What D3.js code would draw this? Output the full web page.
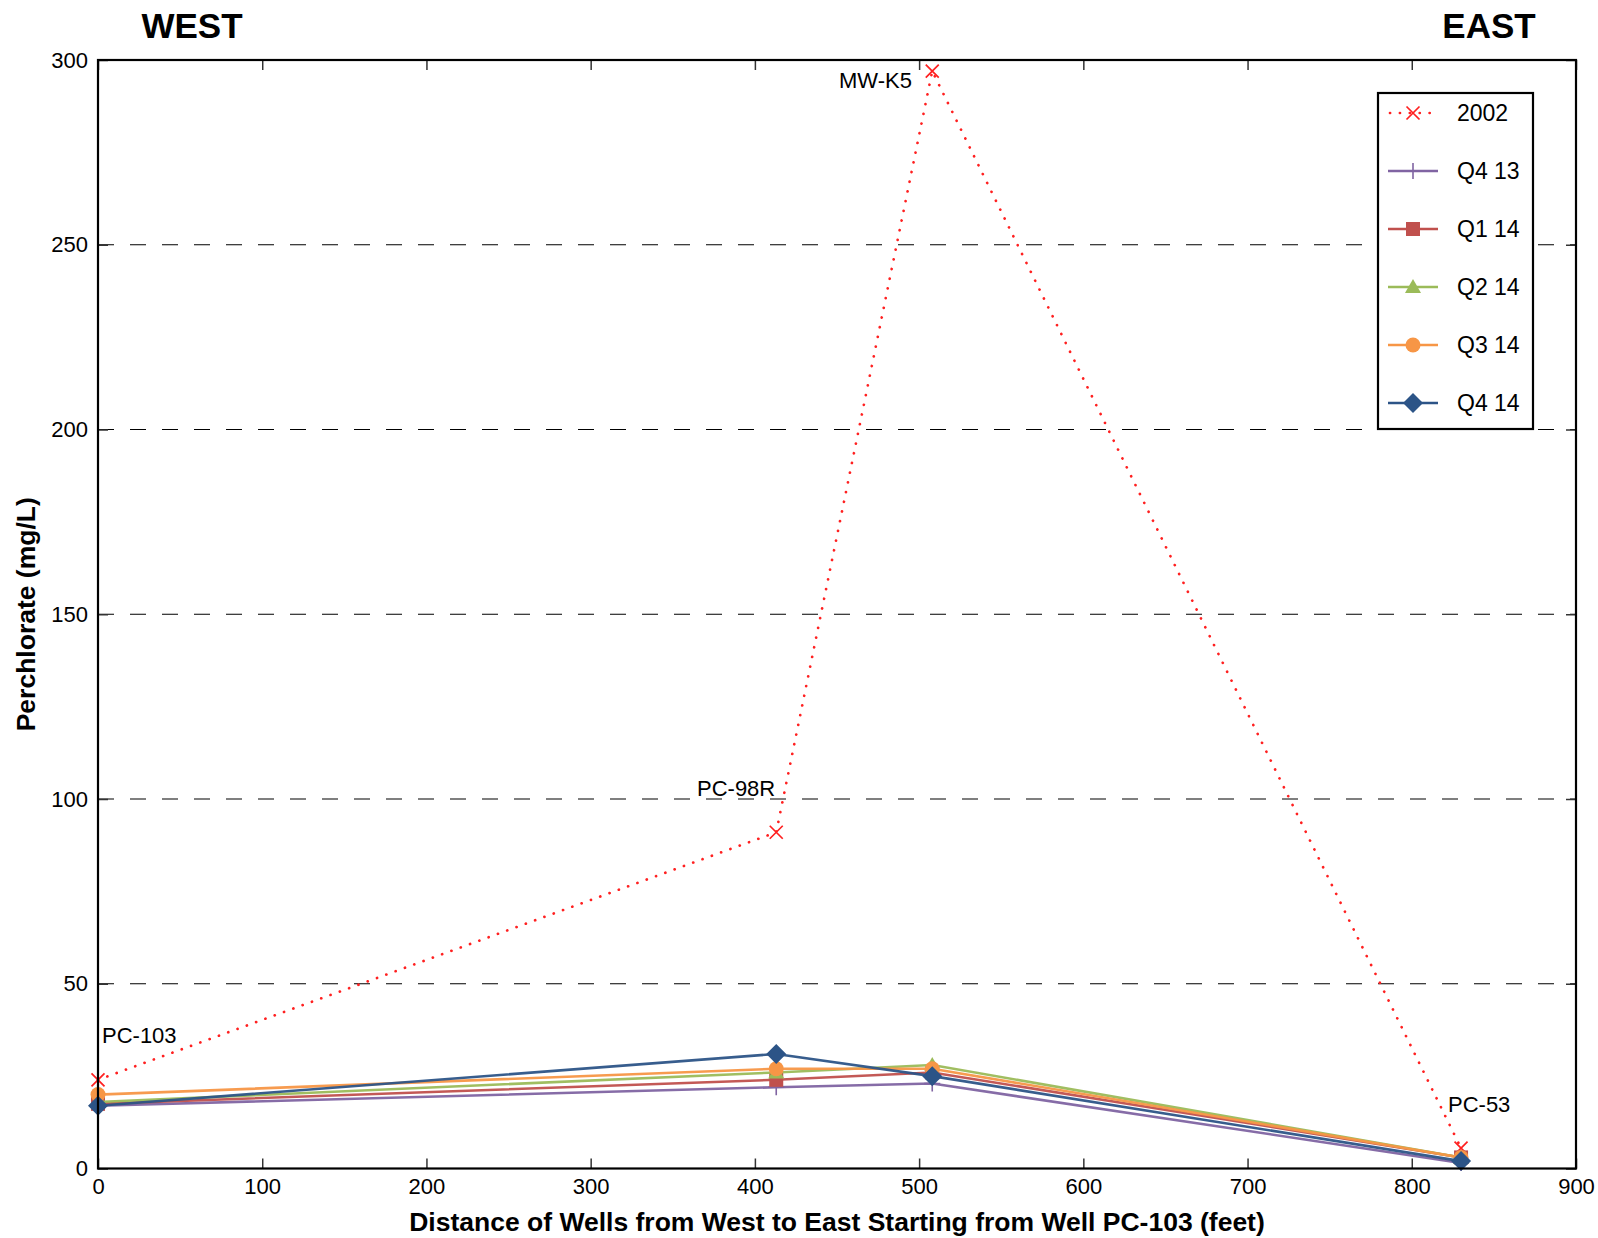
<!DOCTYPE html>
<html><head><meta charset="utf-8">
<script src="https://cdn.jsdelivr.net/npm/d3@7/dist/d3.min.js"></script>
<style>body{margin:0;background:#fff}svg{display:block;font-family:"Liberation Sans",Arial,sans-serif}</style>
</head><body>
<script>
const distances = [0, 413, 508, 830];
const wellNames = ["PC-103", "PC-98R", "MW-K5", "PC-53"];
const seriesNames = ["2002", "Q4 13", "Q1 14", "Q2 14", "Q3 14", "Q4 14"];
const v2002 = [24, 91, 297, 5.5];
const vQ413 = [17, 22, 23, 1.5];
const vQ114 = [17.5, 24, 26, 3];
const vQ214 = [18, 26, 28, 3];
const vQ314 = [20, 27, 27, 3];
const vQ414 = [17, 31, 25, 2];
const xTicks = [0,100,200,300,400,500,600,700,800,900];
const yTicks = [0,50,100,150,200,250,300];
const gridTicks = [50,100,150,200,250];

const colors = ["#ff2020","#8064a2","#c0504d","#9bbb59","#f79646","#2c5487"];
const markers = ["x","plus","square","triangle","circle","diamond"];
const allValues = [v2002,vQ413,vQ114,vQ214,vQ314,vQ414];

const W=1598,H=1238;
const L=98,R=1576,T=60,B=1168.5;
const svg=d3.select("body").append("svg").attr("width",W).attr("height",H);
const x=d3.scaleLinear().domain([0,900]).range([L,R]);
const y=d3.scaleLinear().domain([0,300]).range([B,T]);

// grid
svg.append("g").selectAll("line").data(gridTicks).join("line")
 .attr("x1",L).attr("x2",R).attr("y1",d=>y(d)).attr("y2",d=>y(d))
 .attr("stroke","#000").attr("stroke-width",1.2).attr("stroke-dasharray","16,16");

// axes with inward ticks
const axB=svg.append("g").attr("transform",`translate(0,${B})`)
 .call(d3.axisBottom(x).tickValues(xTicks).tickSize(-10).tickPadding(10).tickFormat(d3.format("d")));
const axT=svg.append("g").attr("transform",`translate(0,${T})`)
 .call(d3.axisTop(x).tickValues(xTicks).tickSize(-10).tickFormat(""));
const axL=svg.append("g").attr("transform",`translate(${L},0)`)
 .call(d3.axisLeft(y).tickValues(yTicks).tickSize(-10).tickPadding(10).tickFormat(d3.format("d")));
const axR=svg.append("g").attr("transform",`translate(${R},0)`)
 .call(d3.axisRight(y).tickValues(yTicks).tickSize(-10).tickFormat(""));
[axB,axT,axL,axR].forEach(a=>{
  a.select(".domain").remove();
  a.selectAll(".tick line").attr("stroke","#333").attr("stroke-width",1.5);
  a.selectAll("text").attr("font-size",22).attr("fill","#000").attr("font-family","Liberation Sans, Arial, sans-serif");
});
axB.selectAll("text").attr("dy","0.71em");

// series
const line=d3.line().x((d,i)=>x(distances[i])).y(d=>y(d));
function drawMarker(g,type,cx,cy,color){
  if(type==="x"){
    const s=6.5;
    g.append("path").attr("d",`M${cx-s},${cy-s}L${cx+s},${cy+s}M${cx-s},${cy+s}L${cx+s},${cy-s}`)
     .attr("stroke",color).attr("stroke-width",1.7).attr("fill","none");
  } else if(type==="plus"){
    const s=8;
    g.append("path").attr("d",`M${cx-s},${cy}L${cx+s},${cy}M${cx},${cy-s}L${cx},${cy+s}`)
     .attr("stroke",color).attr("stroke-width",1.6).attr("fill","none");
  } else if(type==="square"){
    g.append("rect").attr("x",cx-7).attr("y",cy-7).attr("width",14).attr("height",14).attr("fill",color);
  } else if(type==="triangle"){
    g.append("path").attr("d",`M${cx},${cy-8}L${cx+8},${cy+6}L${cx-8},${cy+6}Z`).attr("fill",color);
  } else if(type==="circle"){
    g.append("circle").attr("cx",cx).attr("cy",cy).attr("r",7.5).attr("fill",color);
  } else if(type==="diamond"){
    const s=10;
    g.append("path").attr("d",`M${cx},${cy-s}L${cx+s},${cy}L${cx},${cy+s}L${cx-s},${cy}Z`).attr("fill",color);
  }
}
allValues.forEach((vals,si)=>{
  const g=svg.append("g");
  const p=g.append("path").datum(vals).attr("d",line).attr("fill","none").attr("stroke",colors[si]);
  if(si===0){p.attr("stroke-width",2.7).attr("stroke-dasharray","0.1,9.8").attr("stroke-linecap","round");}
  else{p.attr("stroke-width",2.6).attr("opacity",0.95);}
  vals.forEach((v,i)=>drawMarker(g,markers[si],x(distances[i]),y(v),colors[si]));
});

// frame
svg.append("rect").attr("x",L).attr("y",T).attr("width",R-L).attr("height",B-T)
 .attr("fill","none").attr("stroke","#000").attr("stroke-width",2.2);

// well labels
const wellLabelPos=[[102,1043],[697,796],[839,88],[1448,1112]];
svg.append("g").selectAll("text").data(wellNames).join("text")
 .attr("x",(d,i)=>wellLabelPos[i][0]).attr("y",(d,i)=>wellLabelPos[i][1])
 .attr("font-size",22).text(d=>d);

// WEST / EAST
svg.append("text").attr("x",192).attr("y",38).attr("text-anchor","middle").attr("font-size",35).attr("font-weight","bold").text("WEST");
svg.append("text").attr("x",1489).attr("y",38).attr("text-anchor","middle").attr("font-size",35).attr("font-weight","bold").text("EAST");

// axis titles
svg.append("text").attr("x",(L+R)/2).attr("y",1231).attr("text-anchor","middle").attr("font-size",26.5).attr("font-weight","bold")
 .text("Distance of Wells from West to East Starting from Well PC-103 (feet)");
svg.append("text").attr("transform",`translate(35,${(T+B)/2}) rotate(-90)`).attr("text-anchor","middle").attr("font-size",26.5).attr("font-weight","bold")
 .text("Perchlorate (mg/L)");

// legend
const lg=svg.append("g");
lg.append("rect").attr("x",1378).attr("y",93).attr("width",155).attr("height",336).attr("fill","#fff").attr("stroke","#000").attr("stroke-width",2.2);
seriesNames.forEach((n,i)=>{
  const ly=113+i*58;
  const l=lg.append("line").attr("x1",1388).attr("x2",1438).attr("y1",ly).attr("y2",ly).attr("stroke",colors[i]);
  if(i===0){l.attr("stroke-width",2.7).attr("stroke-dasharray","0.1,9.8").attr("stroke-linecap","round").attr("x1",1390);}
  else l.attr("stroke-width",2.6);
  drawMarker(lg,markers[i],1413,ly,colors[i]);
  lg.append("text").attr("x",1457).attr("y",ly).attr("dy","0.36em").attr("font-size",23).text(n);
});
</script>
</body></html>
